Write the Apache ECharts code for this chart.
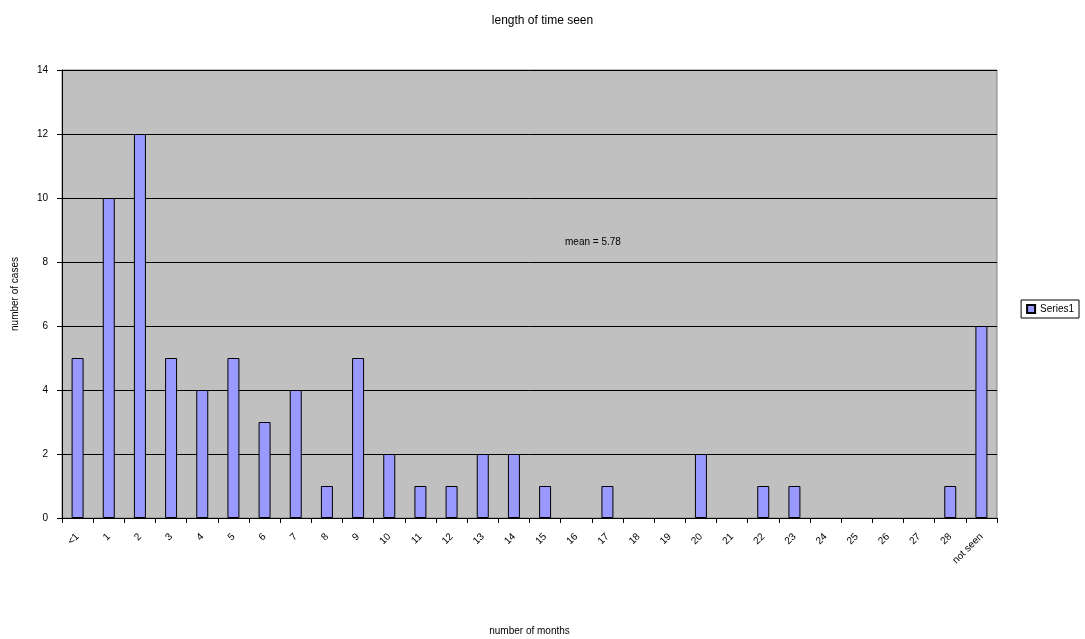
<!doctype html>
<html>
    <head>
        <meta charset="utf-8">
        <title>length of time seen</title>
        <style>
            html, body { margin: 0; padding: 0; background: #fff; }
            #main { width: 1085px; height: 639px; }
        </style>
    </head>
    <body>
        <div id="main"></div>
        <script src="https://cdn.jsdelivr.net/npm/echarts@6/dist/echarts.min.js"></script>
        <script>
            var months = ['<1', '1', '2', '3', '4', '5', '6', '7', '8', '9', '10',
                '11', '12', '13', '14', '15', '16', '17', '18', '19', '20',
                '21', '22', '23', '24', '25', '26', '27', '28', 'not seen'];
            var cases = [5, 10, 12, 5, 4, 5, 3, 4, 1, 5, 2,
                1, 1, 2, 2, 1, 0, 1, 0, 0, 2,
                0, 1, 1, 0, 0, 0, 0, 1, 6];
            var yTicks = { min: 0, max: 14, interval: 2 };

            var font = 'Liberation Sans, Arial, sans-serif';
            var chart = echarts.init(document.getElementById('main'), null, {
                devicePixelRatio: 1
            });

            // zero bars are not drawn in the original (no flat outline)
            var barData = cases.map(function (v) { return v === 0 ? '-' : v; });

            chart.setOption({
                animation: false,
                title: {
                    text: 'length of time seen',
                    left: 'center',
                    top: 10,
                    textStyle: { fontFamily: font, fontSize: 12, fontWeight: 'normal', color: '#000' }
                },
                legend: {
                    right: 6,
                    top: 300,
                    orient: 'vertical',
                    borderColor: '#000',
                    borderWidth: 1,
                    borderRadius: 0,
                    padding: [4, 5],
                    itemWidth: 8,
                    itemHeight: 8,
                    itemGap: 2,
                    textStyle: { fontFamily: font, fontSize: 10, color: '#000' },
                    data: [{ name: 'Series1', icon: 'rect' }]
                },
                grid: {
                    left: 62,
                    right: 88,
                    top: 70,
                    bottom: 121,
                    outerBoundsMode: 'none',
                    show: true,
                    backgroundColor: '#c0c0c0',
                    borderColor: '#808080',
                    borderWidth: 1
                },
                xAxis: {
                    type: 'category',
                    data: months,
                    name: 'number of months',
                    nameLocation: 'middle',
                    nameGap: 108,
                    nameTextStyle: { fontFamily: font, fontSize: 10, color: '#000' },
                    axisLine: { lineStyle: { color: '#000', width: 1 } },
                    axisTick: { show: true, alignWithLabel: false, length: 5, lineStyle: { color: '#000' } },
                    axisLabel: {
                        interval: 0,
                        rotate: 45,
                        margin: 17,
                        fontFamily: font,
                        fontSize: 10,
                        color: '#000'
                    }
                },
                yAxis: {
                    type: 'value',
                    min: yTicks.min,
                    max: yTicks.max,
                    interval: yTicks.interval,
                    name: 'number of cases',
                    nameLocation: 'middle',
                    nameGap: 42,
                    nameTextStyle: { fontFamily: font, fontSize: 10, color: '#000' },
                    axisLine: { show: true, lineStyle: { color: '#000', width: 1 } },
                    axisTick: { show: true, length: 5, lineStyle: { color: '#000' } },
                    axisLabel: { fontFamily: font, fontSize: 10, color: '#000', margin: 14 },
                    splitLine: { show: true, lineStyle: { color: '#000', width: 1 } }
                },
                graphic: [{
                    type: 'text',
                    left: 565,
                    top: 237,
                    style: { text: 'mean = 5.78', font: '10px ' + font, fill: '#000' }
                }],
                series: [{
                    name: 'Series1',
                    type: 'bar',
                    data: barData,
                    barWidth: 12,
                    itemStyle: { color: '#9999ff', borderColor: '#000', borderWidth: 1 }
                }]
            });

            window.onresize = chart.resize;
        </script>
    </body>
</html>
